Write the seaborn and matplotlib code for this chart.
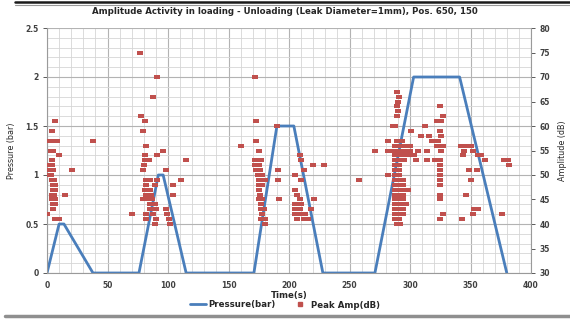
import matplotlib
matplotlib.use("Agg")
import matplotlib.pyplot as plt
from matplotlib.lines import Line2D
from matplotlib.ticker import MultipleLocator
import seaborn as sns
import pandas as pd

# ---- data ----
press_time = [0, 10, 14, 38, 76, 92, 96, 115, 171, 190, 204, 228, 271, 303, 341, 380]
press_bar = [0, 0.5, 0.5, 0, 0, 1.0, 1.0, 0, 0, 1.5, 1.5, 0, 0, 2.0, 2.0, 0]

amp_c1 = [(0, 42), (2, 57), (5, 57), (8, 57), (7, 61), (4, 59), (3, 55), (5, 55), (10, 54),
          (4, 53), (2, 52), (4, 52), (1, 51), (3, 51), (5, 51), (21, 51), (1, 50), (3, 50),
          (4, 49), (6, 49), (5, 48), (7, 48), (5, 47), (7, 47), (4, 46), (6, 46), (15, 46),
          (4, 45), (7, 45), (5, 44), (7, 44), (5, 43), (7, 41), (10, 41), (38, 57)]
amp_c2 = [(77, 75), (91, 70), (88, 66), (78, 62), (81, 61), (79, 59), (82, 56), (81, 54),
          (91, 54), (96, 55), (81, 53), (84, 53), (80, 52), (79, 51), (98, 51), (115, 53),
          (82, 49), (85, 49), (91, 49), (111, 49), (82, 48), (89, 48), (104, 48), (81, 47),
          (85, 47), (82, 46), (86, 46), (104, 46), (79, 45), (83, 45), (87, 45), (85, 44),
          (89, 44), (85, 43), (90, 43), (98, 43), (70, 42), (82, 42), (88, 42), (99, 42),
          (82, 41), (90, 41), (101, 41), (89, 40), (102, 40)]
amp_c3 = [(172, 70), (173, 61), (190, 60), (160, 56), (173, 57), (175, 55), (172, 53),
          (174, 53), (177, 53), (172, 52), (175, 52), (173, 51), (176, 51), (191, 51),
          (174, 50), (178, 50), (175, 49), (180, 49), (191, 49), (175, 48), (178, 48),
          (175, 47), (176, 46), (175, 45), (178, 45), (192, 45), (177, 44), (177, 43),
          (179, 43), (178, 42), (177, 41), (180, 41), (180, 40),
          (209, 54), (210, 53), (212, 51), (220, 52), (229, 52), (205, 50), (210, 49),
          (205, 47), (207, 46), (209, 45), (221, 45), (205, 44), (210, 44), (205, 43),
          (209, 43), (218, 43), (205, 42), (209, 42), (213, 42), (207, 41), (212, 41),
          (216, 41), (258, 49), (271, 55)]
amp_c4 = [(289, 67), (291, 66), (290, 65), (289, 64), (290, 63), (289, 62), (286, 60),
          (288, 60), (282, 57), (282, 55), (282, 50),
          (289, 57), (293, 57), (288, 56), (292, 56), (296, 56),
          (287, 55), (290, 55), (293, 55), (296, 55), (300, 55),
          (288, 54), (291, 54), (295, 54), (299, 54), (288, 53), (291, 53), (295, 53),
          (288, 52), (291, 52), (288, 51), (291, 51), (288, 50), (291, 50),
          (288, 49), (291, 49), (294, 49), (288, 48), (291, 48), (294, 48),
          (288, 47), (291, 47), (294, 47), (298, 47), (288, 46), (291, 46), (294, 46),
          (288, 45), (291, 45), (294, 45), (288, 44), (291, 44), (294, 44), (297, 44),
          (288, 43), (291, 43), (294, 43), (288, 42), (291, 42), (294, 42),
          (288, 41), (291, 41), (289, 40), (292, 40),
          (325, 64), (327, 62), (322, 61), (326, 61), (312, 60), (325, 59), (301, 59),
          (309, 58), (316, 58), (326, 58), (318, 57), (323, 57), (322, 56), (327, 56),
          (300, 56), (307, 55), (314, 55), (326, 55), (303, 54), (305, 53), (314, 53),
          (321, 53), (325, 53), (325, 52), (325, 51), (325, 50), (325, 49), (325, 48),
          (325, 46), (325, 45), (327, 42), (325, 41),
          (342, 56), (346, 56), (350, 56), (345, 55), (352, 55), (344, 54), (356, 54),
          (359, 54), (362, 53), (349, 51), (355, 51), (350, 49), (346, 46), (353, 43),
          (356, 43), (352, 42), (343, 41), (376, 42), (378, 53), (381, 53), (382, 52)]

amp_points = amp_c1 + amp_c2 + amp_c3 + amp_c4
amp_time = [p[0] for p in amp_points]
amp_db = [p[1] for p in amp_points]

press_df = pd.DataFrame({"time": press_time, "pressure": press_bar})
amp_df = pd.DataFrame({"time": amp_time, "amp": amp_db})

BLUE = "#4A7EBB"
RED = "#C0504D"
FONT = "DejaVu Sans"

sns.set_style("white")
plt.rcParams["font.family"] = [FONT]

W, H = 570, 326
fig = plt.figure(figsize=(W / 100, H / 100), dpi=100)
ax = fig.add_axes([47 / W, 53 / H, 484 / W, 245 / H])
ax2 = ax.twinx()

sns.lineplot(data=press_df, x="time", y="pressure", ax=ax, color=BLUE, lw=2,
             estimator=None, sort=False, legend=False)
rect = [(-1.5, -1), (1.5, -1), (1.5, 1), (-1.5, 1), (-1.5, -1)]
sns.scatterplot(data=amp_df, x="time", y="amp", ax=ax2, color=RED, marker=rect,
                s=20, linewidth=0, legend=False)

ax.set_xlim(0, 400)
ax.set_ylim(0, 2.5)
ax2.set_ylim(30, 80)
ax.xaxis.set_major_locator(MultipleLocator(50))
ax.xaxis.set_minor_locator(MultipleLocator(10))
ax.yaxis.set_major_locator(MultipleLocator(0.5))
ax.yaxis.set_minor_locator(MultipleLocator(0.1))
ax2.yaxis.set_major_locator(MultipleLocator(5))

ax.grid(which="major", color="#b3b3b3", lw=0.8)
ax.grid(which="minor", color="#d6d6d6", lw=0.6)
ax.set_axisbelow(True)
ax2.grid(False)

ax.set_yticks([0, 0.5, 1, 1.5, 2, 2.5])
ax.set_yticklabels(["0", "0.5", "1", "1.5", "2", "2.5"])

for a in (ax, ax2):
    for s in a.spines.values():
        s.set_visible(False)
ax.spines["left"].set_visible(True)
ax.spines["bottom"].set_visible(True)
ax2.spines["right"].set_visible(True)
for s in (ax.spines["left"], ax.spines["bottom"], ax2.spines["right"]):
    s.set_color("#9a9a9a")
    s.set_linewidth(0.8)

tick_kw = dict(labelsize=5.5, colors="#404040", length=3, width=0.6, pad=3)
ax.tick_params(axis="both", which="major", **tick_kw)
ax.tick_params(axis="both", which="minor", length=0)
ax2.tick_params(axis="y", which="major", **tick_kw)
for lab in ax.get_xticklabels() + ax.get_yticklabels() + ax2.get_yticklabels():
    lab.set_fontweight("bold")
for t in ax.get_xticklines() + ax.get_yticklines() + ax2.get_yticklines():
    t.set_color("#9a9a9a")

ax.set_xlabel("Time(s)", fontsize=6.2, fontweight="bold", color="#262626", labelpad=0.5)
ax.set_ylabel("Pressure (bar)", fontsize=5.8, color="#262626", labelpad=7)
ax2.set_ylabel("Amplitude (dB)", fontsize=5.8, color="#262626", labelpad=6)
ax2.yaxis.set_label_position("right")

fig.text(0.5, (H - 11) / H, "Amplitude Activity in loading - Unloading (Leak Diameter=1mm), Pos. 650, 150",
         ha="center", va="center", fontsize=6.2, fontweight="bold", color="#262626")

handles = [Line2D([], [], color=BLUE, lw=2),
           Line2D([], [], color=RED, marker="s", markersize=3, lw=0)]
fig.legend(handles, ["Pressure(bar)", "Peak Amp(dB)"], loc="center",
           bbox_to_anchor=(0.5, (H - 305) / H), ncol=2, frameon=False,
           prop={"size": 6.2, "weight": "bold", "family": FONT},
           handlelength=1.8, columnspacing=2.0, handletextpad=0.3, labelcolor="#262626")

# frame lines (top dark, bottom gray)
fig.add_artist(Line2D([15 / W, 1], [(H - 2) / H] * 2, color="#1a1a1a", lw=1.8,
                      transform=fig.transFigure))
fig.add_artist(Line2D([15 / W, 1], [(H - 4.5) / H] * 2, color="#999999", lw=0.8,
                      transform=fig.transFigure))
fig.add_artist(Line2D([5 / W, 1], [(H - 316) / H] * 2, color="#8f8f8f", lw=2.5,
                      transform=fig.transFigure))

fig.savefig("out.png", dpi=100)
